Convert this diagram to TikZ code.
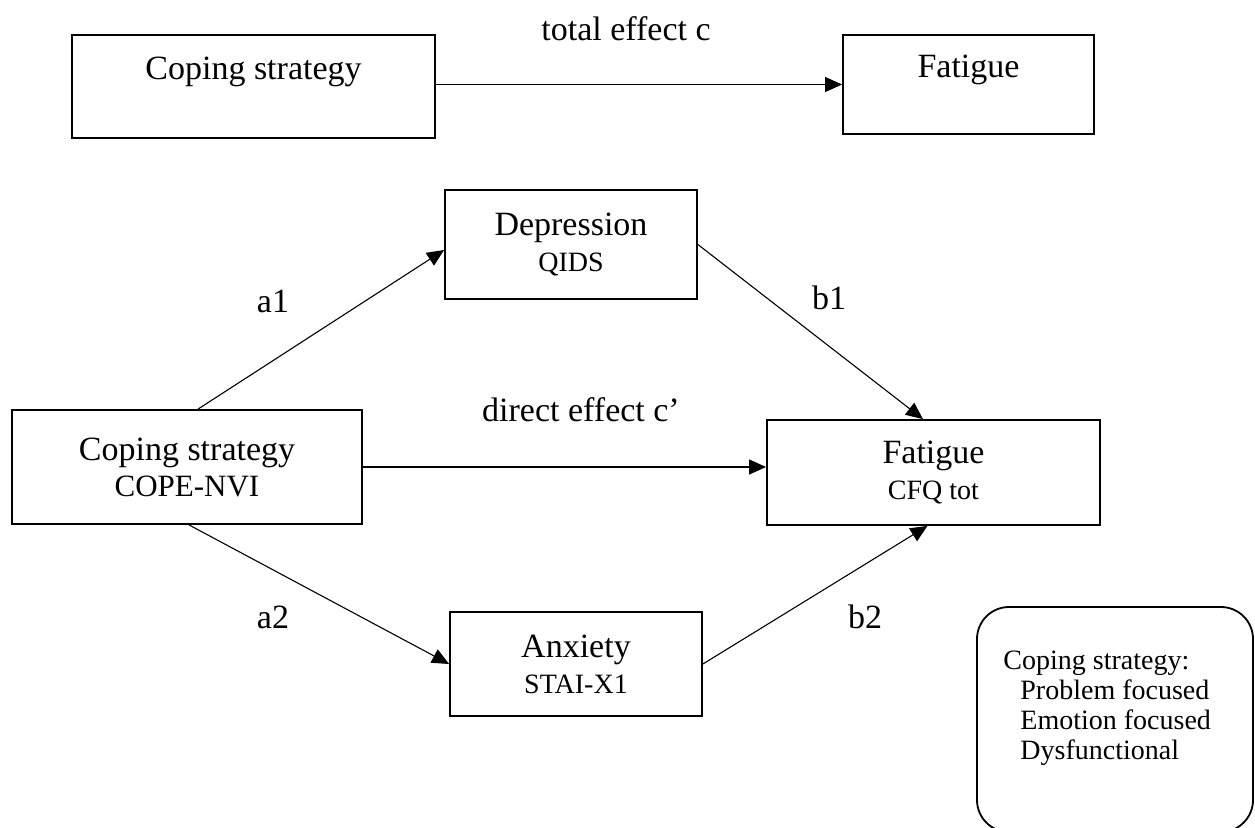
\documentclass[tikz,border=0pt]{standalone}
\usepackage{fontspec}
\setmainfont{Liberation Serif}
\usetikzlibrary{arrows.meta}
\newcommand{\bigfont}{\fontsize{17}{18}\selectfont}
\newcommand{\subfont}{\fontsize{14}{18}\selectfont}
\newcommand{\legfont}{\fontsize{14}{15}\selectfont}
\tikzset{
  varbox/.style={draw, line width=0.9pt, align=center, font=\bigfont, inner sep=0pt},
  lbl/.style={font=\bigfont, inner sep=0pt},
  arr/.style={line width=0.55pt, -{Triangle[length=8.5pt,width=7.5pt]}},
}
\begin{document}
\begin{tikzpicture}[x=0.5pt,y=-0.5pt]
\useasboundingbox (0,0) rectangle (1255,827);
% Efecto total
\node[varbox, minimum width=181.5pt, minimum height=51.5pt, text height=12pt, text depth=19pt] (copetop) at (253.5,86.5) {Coping strategy};
\node[varbox, minimum width=125.5pt, minimum height=49.5pt, text height=12pt, text depth=19pt] (fatigtop) at (968.5,84.5) {Fatigue};
\draw[arr] (copetop.east |- fatigtop.west) -- (fatigtop.west);
\node[lbl] (ltotal) at (626,29) {total effect c};
% Modelo de mediacion
\node[varbox, minimum width=175pt, minimum height=57pt] (cope) at (187,467) {Coping strategy\\{\fontsize{15.5}{18}\selectfont COPE-NVI}};
\node[varbox, minimum width=126pt, minimum height=54.5pt] (depr) at (571,244.5) {Depression\\{\subfont QIDS}};
\node[varbox, minimum width=126pt, minimum height=52pt] (anx) at (576,664) {Anxiety\\{\subfont STAI-X1}};
\node[varbox, minimum width=166.5pt, minimum height=52.5pt] (fatig) at (933.5,472.5) {Fatigue\\{\subfont CFQ tot}};
% Flechas
\draw[arr] ([xshift=5.5pt]cope.north) -- ([yshift=-2.75pt]depr.west);
\draw[arr] (depr.east) -- ([xshift=-5.25pt]fatig.north);
\draw[arr] (cope.east) -- (cope.east -| fatig.west);
\draw[arr] ([xshift=1pt]cope.south) -- (anx.west);
\draw[arr] (anx.east) -- ([xshift=-3pt]fatig.south);
% Etiquetas
\node[lbl] (la1) at (273,301) {a1};
\node[lbl] (lb1) at (829,298) {b1};
\node[lbl] (ldirect) at (581,410) {direct effect c’};
\node[lbl] (la2) at (273,617) {a2};
\node[lbl] (lb2) at (865,617) {b2};
% Leyenda
\draw[line width=0.9pt, rounded corners=16pt] (977,607) rectangle (1253,832);
\node[anchor=north west, align=left, font=\legfont, inner sep=0pt] (legend) at (1003,651)
  {Coping strategy:\\\hspace*{8.5pt}Problem focused\\\hspace*{8.5pt}Emotion focused\\\hspace*{8.5pt}Dysfunctional};
\end{tikzpicture}
\end{document}
